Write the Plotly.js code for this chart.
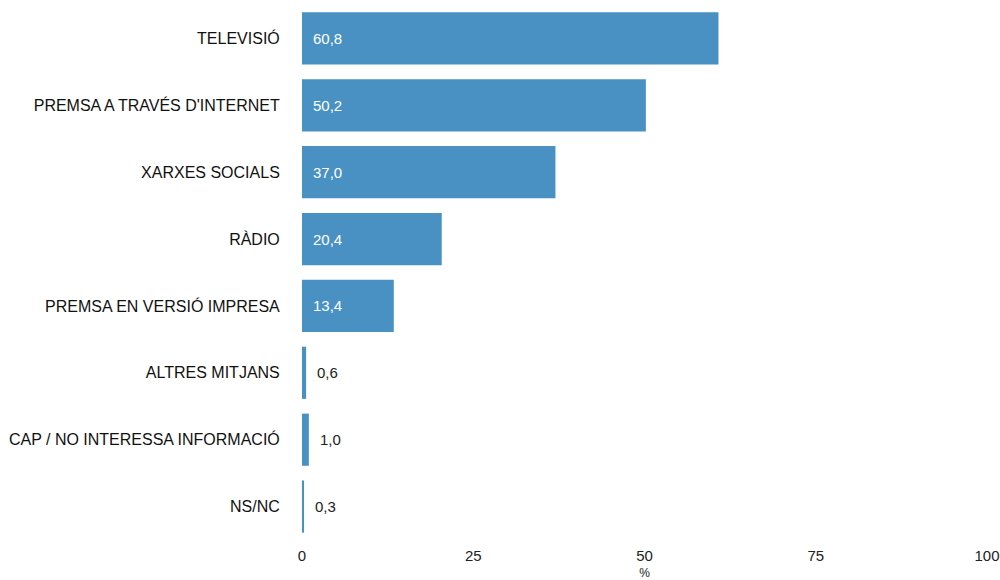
<!DOCTYPE html>
<html><head><meta charset="utf-8">
<script src="https://cdn.plot.ly/plotly-3.0.1.min.js"></script>
<style>html,body{margin:0;padding:0;background:#fff}#chart{width:1000px;height:580px}</style>
</head><body><div id="chart"></div>
<script>
const categories = ["TELEVISIÓ","PREMSA A TRAVÉS D'INTERNET","XARXES SOCIALS","RÀDIO","PREMSA EN VERSIÓ IMPRESA","ALTRES MITJANS","CAP / NO INTERESSA INFORMACIÓ","NS/NC"];
const values = [60.8, 50.2, 37.0, 20.4, 13.4, 0.6, 1.0, 0.3];
const xTicks = [0, 25, 50, 75, 100];

const fmt = v => v.toFixed(1).replace('.', ',');
const annotations = values.map((v, i) => {
  const inside = v > 5;
  return {
    x: inside ? 0 : v, y: categories[i], xref: 'x', yref: 'y',
    text: fmt(v), showarrow: false, xanchor: 'left',
    xshift: inside ? 9 : 9,
    font: {family: 'Liberation Sans, Arial, sans-serif', size: 15, color: inside ? '#ffffff' : '#222222'}
  };
});

Plotly.newPlot('chart', [{
  type: 'bar', orientation: 'h', x: values, y: categories,
  marker: {color: '#4a91c3', line: {width: 0}},
  hoverinfo: 'none'
}], {
  width: 1000, height: 580,
  margin: {l: 302, r: 13, t: 5, b: 40},
  paper_bgcolor: '#fff', plot_bgcolor: '#fff',
  bargap: 0.22,
  showlegend: false,
  font: {family: 'Liberation Sans, Arial, sans-serif', color: '#222'},
  xaxis: {
    range: [0, 100], tickvals: xTicks, ticktext: xTicks.map(String),
    showgrid: false, zeroline: false, showline: false,
    ticks: 'outside', ticklen: 2, tickcolor: 'rgba(0,0,0,0)',
    tickfont: {size: 15, color: '#222'},
    title: {text: '%', font: {size: 12, color: '#222'}, standoff: 7},
    fixedrange: true
  },
  yaxis: {
    autorange: 'reversed', type: 'category',
    showgrid: false, zeroline: false, showline: false,
    ticks: 'outside', ticklen: 18, tickcolor: 'rgba(0,0,0,0)',
    tickfont: {size: 16, color: '#111'},
    fixedrange: true
  },
  annotations: annotations
}, {displayModeBar: false, staticPlot: true});
</script>
</body></html>
